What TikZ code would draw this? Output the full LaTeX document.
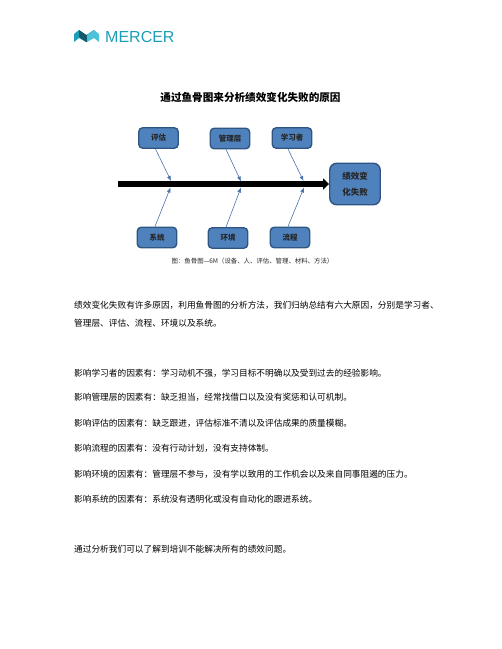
\documentclass[tikz,border=0pt]{standalone}
\usepackage{fontspec}
\setmainfont{Noto Sans CJK SC}
\newfontfamily\latinsans{Liberation Sans}
\usetikzlibrary{arrows.meta}
\definecolor{boxfill}{HTML}{4F81BD}
\definecolor{boxline}{HTML}{2F5583}
\definecolor{merceA}{HTML}{1B9FB8}
\definecolor{merceB}{HTML}{17576E}
\definecolor{merceC}{HTML}{4CC3D9}
\tikzset{
  cause/.style={draw=boxline,line width=1.4pt,fill=boxfill,rounded corners=4pt,inner sep=0pt,
     minimum width=39.5pt,minimum height=20.5pt,font=\bfseries\fontsize{7.5}{9}\selectfont,text=black!85},
  effect/.style={cause,minimum width=50.5pt,minimum height=41.5pt,rounded corners=7pt,
     align=center,font=\bfseries\fontsize{8.5}{15.5}\selectfont},
  bone/.style={draw=boxfill!90!black,line width=0.6pt,-{Latex[length=5pt,width=4pt]}},
  para/.style={anchor=west,inner sep=0pt,font=\fontsize{8.68}{10}\selectfont,text=black},
}
\begin{document}
\begin{tikzpicture}[x=1pt,y=-1pt]
\useasboundingbox (0,0) rectangle (502,649);
% logo
\fill[merceA] (74,34) -- (79,30) -- (86,35) -- (86,42) -- (79,38) -- (74,42) -- cycle;
\fill[merceB] (79,30) -- (86.5,35) -- (94,30) -- (94,37) -- (86.5,42) -- (79,37) -- cycle;
\fill[merceC] (87,35) -- (94,30) -- (99,34) -- (99,42) -- (94,38) -- (87,42) -- cycle;
\node[anchor=west,inner sep=0pt,text=merceA,font=\latinsans\fontsize{16}{18}\selectfont] (logo) at (105,36.5) {MERCER};
% title
\node[inner sep=0pt,font=\bfseries\fontsize{10.6}{12}\selectfont,text=black] (title) at (250.5,97) {通过鱼骨图来分析绩效变化失败的原因};
% diagram
\node[effect] (eff) at (355,184) {绩效变\\化失败};
\coordinate (tail) at (118,184);
\draw[line width=5.5pt,-{Triangle[length=6pt,width=11pt]}] (tail) -- (eff.west);
\node[cause] (pg) at (158.5,138) {评估};
\node[cause] (gl) at (230,138.5) {管理层};
\node[cause] (xx) at (292,138) {学习者};
\node[cause] (xt) at (157,237.5) {系统};
\node[cause] (hj) at (228,238) {环境};
\node[cause] (lc) at (290,237.5) {流程};
\coordinate (a1) at (171,181);
\coordinate (a2) at (241,181.5);
\coordinate (a3) at (303.5,181);
\coordinate (b1) at (170.5,187.5);
\coordinate (b2) at (241,187.5);
\coordinate (b3) at (304,187.5);
\draw[bone] (pg.south) ++(-3,0) -- (a1);
\draw[bone] (gl.south) ++(-4,0) -- (a2);
\draw[bone] (xx.south) ++(-4,0) -- (a3);
\draw[bone] (xt.north) ++(-2,0) -- (b1);
\draw[bone] (hj.north) ++(-2,0) -- (b2);
\draw[bone] (lc.north) ++(-2,0) -- (b3);
\node[inner sep=0pt,font=\fontsize{6.4}{8}\selectfont,text=black!85] (cap) at (252.5,261) {图：鱼骨图—6M（设备、人、评估、管理、材料、方法）};
% body
\node[para] (p1) at (74,305.5) {绩效变化失败有许多原因，利用鱼骨图的分析方法，我们归纳总结有六大原因，分别是学习者、};
\node[para] (p2) at (74,323) {管理层、评估、流程、环境以及系统。};
\node[para] (p3) at (74,373) {影响学习者的因素有：学习动机不强，学习目标不明确以及受到过去的经验影响。};
\node[para] (p4) at (74,397) {影响管理层的因素有：缺乏担当，经常找借口以及没有奖惩和认可机制。};
\node[para] (p5) at (74,423) {影响评估的因素有：缺乏跟进，评估标准不清以及评估成果的质量模糊。};
\node[para] (p6) at (74,448) {影响流程的因素有：没有行动计划，没有支持体制。};
\node[para] (p7) at (74,474) {影响环境的因素有：管理层不参与，没有学以致用的工作机会以及来自同事阻遏的压力。};
\node[para] (p8) at (74,499) {影响系统的因素有：系统没有透明化或没有自动化的跟进系统。};
\node[para] (p9) at (74,549) {通过分析我们可以了解到培训不能解决所有的绩效问题。};
\end{tikzpicture}
\end{document}
